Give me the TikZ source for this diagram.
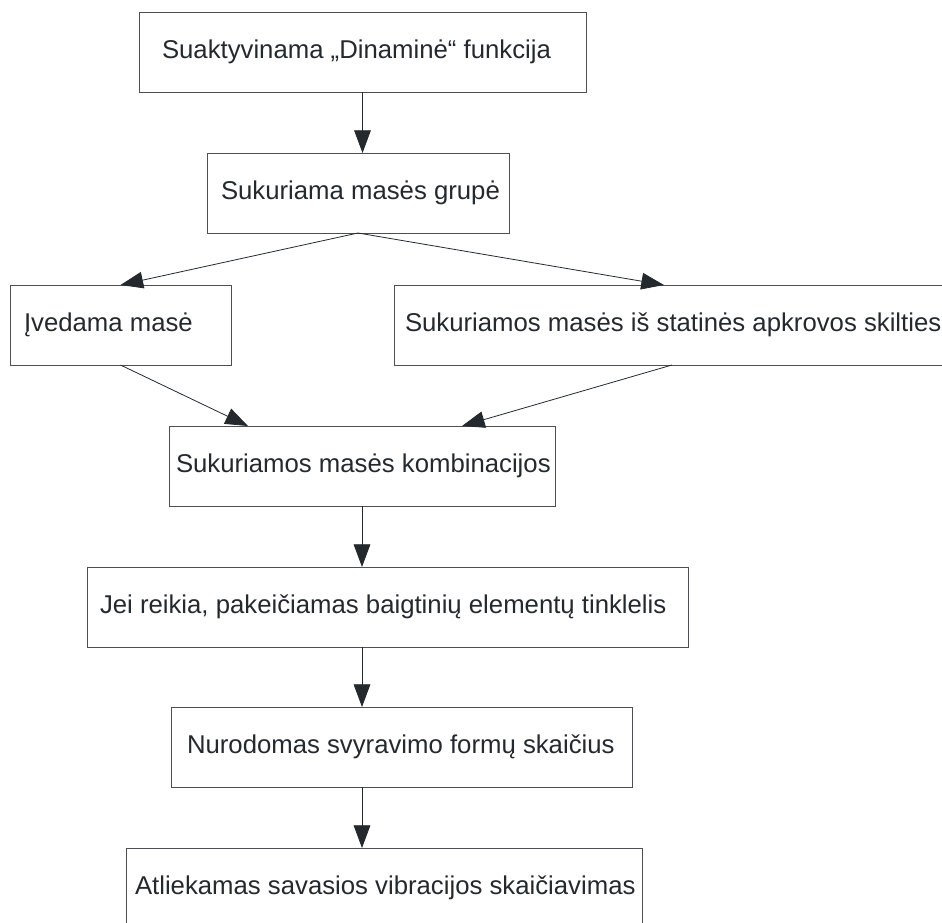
\documentclass[tikz,border=0pt]{standalone}
\usepackage{fontspec}
\setmainfont{Liberation Sans}
\usetikzlibrary{arrows.meta}
\definecolor{inkdark}{HTML}{24292E}
\definecolor{edgegray}{HTML}{4D4F52}
\newcommand{\steptext}[3]{\makebox[#1][l]{\hspace*{#2}#3}}

\begin{document}
\begin{tikzpicture}[x=0.75pt,y=-0.75pt,inner sep=0pt,outer sep=0pt,line width=0.75pt,
>={Triangle[length=17pt,width=12.5pt]},
stepbox/.style={draw=edgegray,rectangle,anchor=north west,inner sep=0pt,minimum height=60pt,text=inkdark,font=\fontsize{19.3pt}{23pt}\selectfont},
flow/.style={->,draw=inkdark,line width=0.6pt}]
\useasboundingbox (0,0) rectangle (942,922);

\draw (139,12) node[stepbox] (dyn) {\steptext{335.25pt}{17.25pt}{Suaktyvinama „Dinaminė“ funkcija}};
\draw (207,153) node[stepbox] (grp) {\steptext{226.5pt}{10.5pt}{Sukuriama masės grupė}};
\draw (10,285) node[stepbox] (inp) {\steptext{165.75pt}{10.5pt}{Įvedama masė}};
\draw (394,285) node[stepbox] (stat) {\steptext{420pt}{8.25pt}{Sukuriamos masės iš statinės apkrovos skilties}};
\draw (169,426) node[stepbox] (comb) {\steptext{289.5pt}{5.25pt}{Sukuriamos masės kombinacijos}};
\draw (87,567) node[stepbox] (mesh) {\steptext{450.75pt}{9.75pt}{Jei reikia, pakeičiamas baigtinių elementų tinklelis}};
\draw (171,707) node[stepbox] (modes) {\steptext{345.75pt}{12pt}{Nurodomas svyravimo formų skaičius}};
\draw (126,848) node[stepbox] (vib) {\steptext{387pt}{6.75pt}{Atliekamas savasios vibracijos skaičiavimas}};

\draw[flow] (dyn.south) -- (dyn.south |- grp.north);
\draw[flow] (grp.south) -- (inp.north);
\draw[flow] (grp.south) -- ([xshift=202.5pt]stat.north west);
\draw[flow] (inp.south) -- ([xshift=59.25pt]comb.north west);
\draw[flow] ([xshift=208.5pt]stat.south west) -- ([xshift=219.75pt]comb.north west);
\draw[flow] (comb.south) -- (comb.south |- mesh.north);
\draw[flow] (comb.south |- mesh.south) -- (comb.south |- modes.north);
\draw[flow] (comb.south |- modes.south) -- (comb.south |- vib.north);
\end{tikzpicture}
\end{document}
